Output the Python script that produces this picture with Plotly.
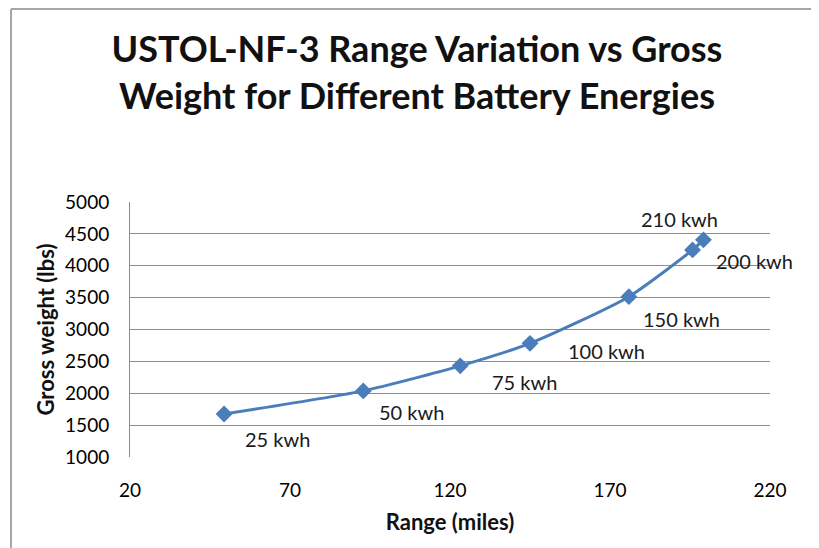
import plotly.graph_objects as go

# Data
range_miles = [49.4, 92.9, 123.2, 145.0, 175.9, 195.8, 199.2]
gross_weight = [1675, 2037, 2430, 2783, 3515, 4249, 4406]
battery_labels = ["25 kwh", "50 kwh", "75 kwh", "100 kwh", "150 kwh", "200 kwh", "210 kwh"]

x_ticks = [20, 70, 120, 170, 220]
y_ticks = [1000, 1500, 2000, 2500, 3000, 3500, 4000, 4500, 5000]

title_text = "USTOL-NF-3 Range Variation vs Gross<br>Weight for Different Battery Energies"
x_title = "Range (miles)"
y_title = "Gross weight (lbs)"

# label offsets (pixels) relative to each point: (right, down)
label_offsets = [(53, 25), (48, 21), (64, 16), (76, 8), (53, 22), (62, 11), (-24, -21)]

FONT = "Lato"
BLUE = "#4A7EBB"

fig = go.Figure()
fig.add_trace(go.Scatter(
    x=range_miles, y=gross_weight,
    mode="lines+markers",
    line=dict(color=BLUE, width=3, shape="spline", smoothing=0.6),
    marker=dict(symbol="diamond", size=13, color=BLUE, line=dict(width=0)),
    showlegend=False,
))

for xv, yv, lab, (dx, dy) in zip(range_miles, gross_weight, battery_labels, label_offsets):
    fig.add_annotation(
        x=xv, y=yv, xref="x", yref="y", text=lab, showarrow=False,
        xshift=dx, yshift=-dy,
        font=dict(family=FONT, size=20, color="#1a1a1a"),
    )

# page body adds an 8px margin, so the figure is drawn 8px smaller and shifted
fig.update_layout(
    width=811, height=540,
    margin=dict(l=122, r=49, t=194, b=91),
    paper_bgcolor="white", plot_bgcolor="white",
    title=dict(
        text=title_text,
        x=(417 - 8) / 811, xanchor="center",
        y=1 - 54 / 540, yanchor="middle",
        font=dict(family=FONT, size=36, color="#111111", weight="bold"),
    ),
    font=dict(family=FONT, color="#111111"),
    xaxis=dict(
        range=[20, 220], tickvals=x_ticks, ticktext=[str(v) for v in x_ticks],
        showgrid=False, zeroline=False,
        showline=False,
        tickfont=dict(family=FONT, size=19, color="#000000"),
        ticklabelstandoff=20,
        title=dict(text=x_title, font=dict(family=FONT, size=22, color="#111111", weight="bold"), standoff=14),
    ),
    yaxis=dict(
        range=[1000, 5000], tickvals=y_ticks, ticktext=[str(v) for v in y_ticks],
        showgrid=True, gridcolor="#8c8c8c", gridwidth=1,
        zeroline=False,
        showline=True, linecolor="#8c8c8c", linewidth=1,
        tickfont=dict(family=FONT, size=19, color="#000000"),
        ticklabelstandoff=16,
        title=dict(text=y_title, font=dict(family=FONT, size=22, color="#111111", weight="bold"), standoff=4),
    ),
    shapes=[
        # outer chart border (left and top edges visible)
        dict(type="line", xref="paper", yref="paper",
             x0=(11 - 130) / 640, x1=(11 - 130) / 640, y0=1 + (202 - 9) / 255, y1=-0.5,
             line=dict(color="#a6a6a6", width=2)),
        dict(type="line", xref="paper", yref="paper",
             x0=(11 - 130) / 640, x1=1.2, y0=1 + (202 - 9) / 255, y1=1 + (202 - 9) / 255,
             line=dict(color="#a6a6a6", width=2)),
    ],
)

fig.write_html("out.html")
